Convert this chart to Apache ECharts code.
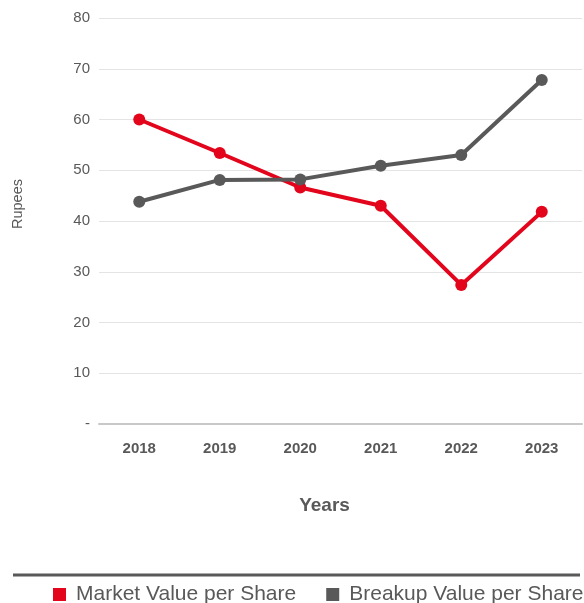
<!DOCTYPE html>
<html>
<head>
<meta charset="utf-8">
<script src="https://cdn.jsdelivr.net/npm/echarts@6/dist/echarts.min.js"></script>
<style>
  html, body { margin: 0; padding: 0; background: #fff; }
  #chart { width: 584px; height: 603px; }
</style>
</head>
<body>
<div id="chart"></div>
<script>
// data
const years = ['2018', '2019', '2020', '2021', '2022', '2023']
const marketValue = [60.0, 53.4, 46.6, 43.0, 27.4, 41.8]
const breakupValue = [43.8, 48.1, 48.2, 50.9, 53.0, 67.8]
const yTicks = { min: 0, max: 80, interval: 10 }

const red = '#e2051b'
const grey = '#595959'
const font = 'Arial, "Liberation Sans", sans-serif'

const chart = echarts.init(document.getElementById('chart'))

chart.setOption({
  backgroundColor: '#fff',
  animation: false,
  textStyle: { fontFamily: font },
  grid: { left: 99, right: 2, top: 18, bottom: 179 },
  legend: {
    left: 53,
    right: 0,
    top: 584,
    padding: 0,
    itemWidth: 13,
    itemHeight: 13,
    itemGap: 30,
    icon: 'rect',
    textStyle: { color: grey, fontSize: 21, fontFamily: font, padding: [0, 0, 0, 5] },
    data: ['Market Value per Share', 'Breakup Value per Share']
  },
  graphic: [{
    type: 'line',
    shape: { x1: 13, y1: 575, x2: 580, y2: 575 },
    style: { stroke: grey, lineWidth: 3 }
  }],
  xAxis: {
    type: 'category',
    data: years,
    name: 'Years',
    nameLocation: 'middle',
    nameGap: 72,
    nameTextStyle: { color: grey, fontSize: 19, fontWeight: 'bold', fontFamily: font, padding: [0, 32, 0, 0] },
    axisLine: { lineStyle: { color: '#c8c8c8', width: 2 } },
    axisTick: { show: false },
    axisLabel: { color: grey, fontSize: 15, fontWeight: 'bold', margin: 17, fontFamily: font }
  },
  yAxis: {
    type: 'value',
    min: yTicks.min,
    max: yTicks.max,
    interval: yTicks.interval,
    name: 'Rupees',
    nameLocation: 'middle',
    nameGap: 74,
    nameTextStyle: { color: grey, fontSize: 14.5, fontFamily: font, padding: [0, 0, 0, 34] },
    axisLine: { show: false },
    axisTick: { show: false },
    axisLabel: {
      color: grey,
      fontSize: 15,
      margin: 9,
      fontFamily: font,
      formatter: v => (v === 0 ? '-' : String(v))
    },
    splitLine: { lineStyle: { color: '#e4e4e4', width: 1 } }
  },
  series: [
    {
      name: 'Market Value per Share',
      type: 'line',
      data: marketValue,
      color: red,
      symbol: 'circle',
      symbolSize: 12,
      lineStyle: { width: 4, color: red },
      itemStyle: { color: red }
    },
    {
      name: 'Breakup Value per Share',
      type: 'line',
      data: breakupValue,
      color: grey,
      symbol: 'circle',
      symbolSize: 12,
      lineStyle: { width: 4, color: grey },
      itemStyle: { color: grey }
    }
  ]
})
</script>
</body>
</html>
